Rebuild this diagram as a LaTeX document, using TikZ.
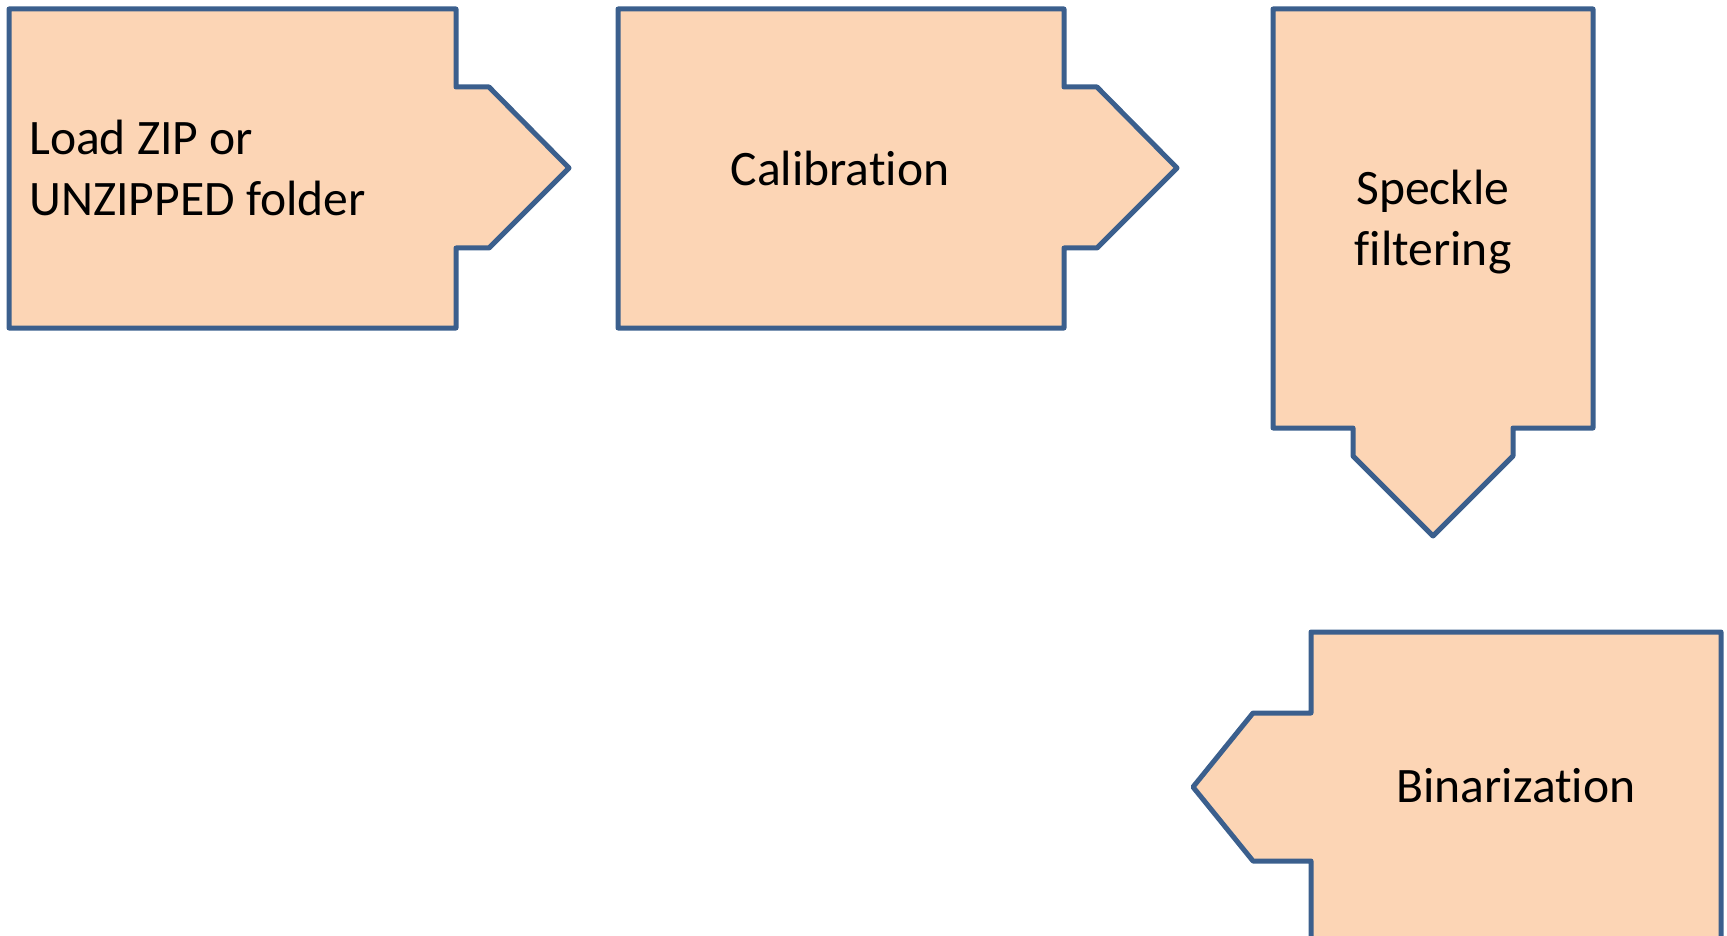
\documentclass[tikz,border=0pt]{standalone}
\usepackage{fontspec}
\setmainfont{Carlito}[RawFeature={-liga;-clig;-dlig}]
\definecolor{boxfill}{HTML}{FCD5B5}
\definecolor{boxline}{HTML}{3B5F8D}
\begin{document}
\begin{tikzpicture}[x=1pt,y=-1pt,
  stepshape/.style={fill=boxfill,draw=boxline,line width=5pt,line join=round},
  steptext/.style={inner sep=0pt,font=\fontsize{49.6}{60.5}\selectfont,align=center}]
\useasboundingbox (0,0) rectangle (1727,936);
\clip (0,0) rectangle (1727,936);
% Load ZIP
\path[stepshape] (9,9) -- (456,9) -- (456,87) -- (489,87) -- (569,168) -- (489,248) -- (456,248) -- (456,328) -- (9,328) -- cycle;
% Calibration
\path[stepshape] (618,9) -- (1064,9) -- (1064,87) -- (1097,87) -- (1177,168) -- (1097,248) -- (1064,248) -- (1064,328) -- (618,328) -- cycle;
% Speckle
\path[stepshape] (1273,9) -- (1593,9) -- (1593,428) -- (1513,428) -- (1513,456) -- (1433,536) -- (1353,456) -- (1353,428) -- (1273,428) -- cycle;
% Binarization
\path[stepshape] (1311,632) -- (1721,632) -- (1721,942) -- (1311,942) -- (1311,861) -- (1253,861) -- (1193,787) -- (1253,713) -- (1311,713) -- cycle;

\node[steptext,align=left,anchor=west] (load) at (29,168) {Load ZIP or\\UNZIPPED folder};
\node[steptext] (calib) at (840,168) {Calibration};
\node[steptext] (speckle) at (1433,222) {Speckle\\filtering};
\node[steptext] (bin) at (1516,786) {Binarization};
\end{tikzpicture}
\end{document}
